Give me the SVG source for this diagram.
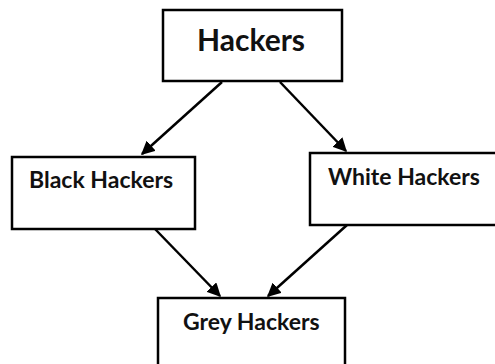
<svg xmlns="http://www.w3.org/2000/svg" width="495" height="364" viewBox="0 0 495 364">
  <style>
    .box { fill: #ffffff; stroke: #000000; stroke-width: 2.5; }
    .label { font-family: Lato, "Open Sans", "Liberation Sans", sans-serif; font-weight: bold; fill: #111111; }
    .edge { stroke: #000000; stroke-width: 2.5; fill: none; marker-end: url(#head); }
  </style>
  <defs>
    <marker id="head" viewBox="0 0 10 10" refX="9" refY="5" markerWidth="5.5" markerHeight="5.5" orient="auto" markerUnits="strokeWidth">
      <path d="M0,0 L10,5 L0,10 z" fill="#000000"/>
    </marker>
  </defs>

  <g id="connectors">
    <line class="edge" x1="222" y1="82" x2="142" y2="154"/>
    <line class="edge" x1="280" y1="82" x2="346" y2="151"/>
    <line class="edge" x1="155" y1="229" x2="220" y2="296"/>
    <line class="edge" x1="347" y1="225" x2="268" y2="296"/>
  </g>

  <g id="hackers">
    <rect class="box" x="163" y="10" width="179" height="71"/>
    <text class="label" x="251" y="51" font-size="30" text-anchor="middle">Hackers</text>
  </g>

  <g id="black-hackers">
    <rect class="box" x="12" y="157" width="183" height="72"/>
    <text class="label" x="29" y="188" font-size="23">Black Hackers</text>
  </g>

  <g id="white-hackers">
    <rect class="box" x="310" y="153" width="192" height="72"/>
    <text class="label" x="328" y="185" font-size="23">White Hackers</text>
  </g>

  <g id="grey-hackers">
    <rect class="box" x="158" y="298" width="187" height="80"/>
    <text class="label" x="183" y="330" font-size="23">Grey Hackers</text>
  </g>
</svg>
